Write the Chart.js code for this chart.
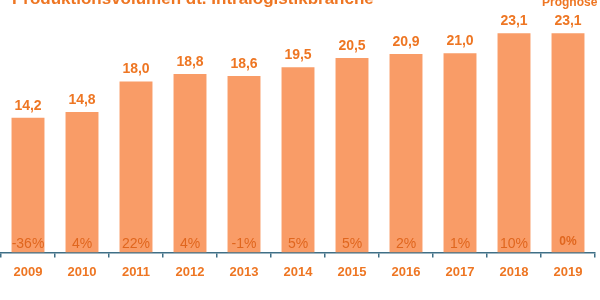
<!DOCTYPE html>
<html>
<head>
<meta charset="utf-8">
<script src="https://cdn.jsdelivr.net/npm/chart.js@4"></script>
<style>
  html, body { margin: 0; padding: 0; background: #fff; }
  #wrap { width: 600px; height: 300px; position: relative; }
</style>
</head>
<body>
<div id="wrap"><canvas id="volChart"></canvas></div>
<script>
var years = ['2009', '2010', '2011', '2012', '2013', '2014', '2015', '2016', '2017', '2018', '2019'];
var volumen = [14.2, 14.8, 18.0, 18.8, 18.6, 19.5, 20.5, 20.9, 21.0, 23.1, 23.1];
var wachstum = ['-36%', '4%', '22%', '4%', '-1%', '5%', '5%', '2%', '1%', '10%', '0%'];
var titel = 'Produktionsvolumen dt. Intralogistikbranche';
var prognose = 'Prognose';

var orange = '#EE7623';
var barColor = '#F99C67';
var axisColor = '#3F6F86';

// Beschriftungen: Titel, Werte über den Balken, Prozent in den Balken
var labelPlugin = {
    id: 'labels',
    afterDatasetsDraw: function (chart) {
        var ctx = chart.ctx;
        var meta = chart.getDatasetMeta(0);
        ctx.save();
        ctx.textAlign = 'center';
        ctx.textBaseline = 'middle';
        meta.data.forEach(function (bar, i) {
            ctx.fillStyle = orange;
            ctx.font = 'bold 14px "Liberation Sans", Arial, sans-serif';
            ctx.fillText(volumen[i].toFixed(1).replace('.', ','), bar.x, bar.y - 12);
            ctx.fillStyle = '#E0661E';
            var last = i === years.length - 1;
            ctx.font = (last ? 'bold 12px ' : '14px ') + '"Liberation Sans", Arial, sans-serif';
            ctx.fillText(wachstum[i], bar.x, bar.base - (last ? 11 : 8));
        });
        ctx.textAlign = 'left';
        ctx.textBaseline = 'alphabetic';
        ctx.fillStyle = orange;
        ctx.font = 'bold 17px "Liberation Sans", Arial, sans-serif';
        ctx.fillText(titel, 12, 4);
        ctx.font = 'bold 12px "Liberation Sans", Arial, sans-serif';
        ctx.fillText(prognose, 542, 6);
        ctx.restore();
    }
};

var ctx = document.getElementById('volChart').getContext('2d');
var volChart = new Chart(ctx, {
    type: 'bar',
    data: {
        labels: years,
        datasets: [{
            data: volumen,
            backgroundColor: barColor,
            borderWidth: 0,
            categoryPercentage: 1,
            barPercentage: 0.61
        }]
    },
    options: {
        responsive: true,
        maintainAspectRatio: false,
        animation: false,
        layout: { padding: { left: 1, right: 5, top: 0, bottom: 13 } },
        plugins: { legend: { display: false }, tooltip: { enabled: false } },
        scales: {
            x: {
                border: { display: true, color: axisColor, width: 1.5 },
                grid: { display: true, drawOnChartArea: false, drawTicks: true, tickLength: 5, color: axisColor, lineWidth: 1.5 },
                ticks: {
                    color: orange,
                    font: { family: '"Liberation Sans", Arial, sans-serif', size: 13, weight: 'bold' },
                    padding: 7
                }
            },
            y: {
                display: false,
                min: 0,
                max: 26.6
            }
        }
    },
    plugins: [labelPlugin]
});
</script>
</body>
</html>
